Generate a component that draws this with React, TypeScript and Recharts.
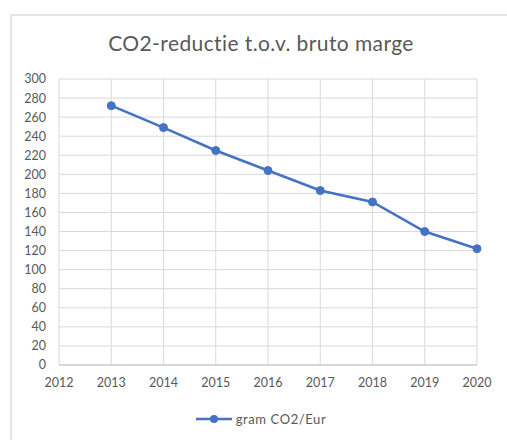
import React from "react";
import { LineChart, Line, XAxis, YAxis, CartesianGrid } from "recharts";

const years = [2013, 2014, 2015, 2016, 2017, 2018, 2019, 2020];
const gramCO2PerEur = [272, 249, 225, 204, 183, 171, 140, 122];
const xTicks = [2012, 2013, 2014, 2015, 2016, 2017, 2018, 2019, 2020];
const yTicks = [0, 20, 40, 60, 80, 100, 120, 140, 160, 180, 200, 220, 240, 260, 280, 300];
const seriesName = "gram CO2/Eur";
const title = "CO2-reductie t.o.v. bruto marge";

const data = years.map((y, i) => ({ year: y, value: gramCO2PerEur[i] }));

const FONT = "Lato, 'Open Sans', sans-serif";
const BLUE = "#4472C4";

export default function App() {
  return (
    <div style={{ position: "absolute", left: 0, top: 0, width: 507, height: 440, overflow: "hidden", background: "#fff" }}>
      <div style={{ position: "absolute", left: 10, top: 14, width: 520, height: 460, borderLeft: "2px solid #e3e3e3", borderTop: "2px solid #e3e3e3" }} />
      <div style={{ position: "absolute", left: 10, top: 30, width: 502, textAlign: "center", fontFamily: FONT, fontSize: 21, letterSpacing: 0.4, color: "#595959" }}>
        {title}
      </div>
      <div style={{ position: "absolute", left: 0, top: 0 }}>
        <LineChart width={507} height={440} data={data} margin={{ top: 79, right: 30, bottom: 45, left: 0 }}>
          <CartesianGrid stroke="#d9d9d9" strokeWidth={1} />
          <XAxis
            dataKey="year"
            type="number"
            domain={[2012, 2020]}
            ticks={xTicks}
            interval={0}
            tickLine={false}
            tickSize={0}
            tickMargin={13}
            axisLine={{ stroke: "#d0d0d0", strokeWidth: 1.5 }}
            height={30}
            tick={{ fill: "#595959", fontSize: 12.5, fontFamily: FONT }}
          />
          <YAxis
            type="number"
            domain={[0, 300]}
            ticks={yTicks}
            interval={0}
            width={59}
            tickLine={false}
            tickSize={0}
            tickMargin={13}
            axisLine={false}
            tick={{ fill: "#595959", fontSize: 12.5, fontFamily: FONT }}
          />
          <Line
            type="linear"
            dataKey="value"
            name={seriesName}
            stroke={BLUE}
            strokeWidth={2.5}
            dot={{ r: 4, fill: BLUE, stroke: BLUE, strokeWidth: 1 }}
            activeDot={false}
            isAnimationActive={false}
          />
        </LineChart>
      </div>
      <div style={{ position: "absolute", left: 10, top: 411, width: 502, display: "flex", justifyContent: "center", alignItems: "center", fontFamily: FONT, fontSize: 13, letterSpacing: 0.6, color: "#595959" }}>
        <svg width={36} height={10} style={{ marginRight: 4 }}>
          <line x1={0} y1={5} x2={36} y2={5} stroke={BLUE} strokeWidth={2.5} />
          <circle cx={18} cy={5} r={4} fill={BLUE} />
        </svg>
        <span>{seriesName}</span>
      </div>
    </div>
  );
}
